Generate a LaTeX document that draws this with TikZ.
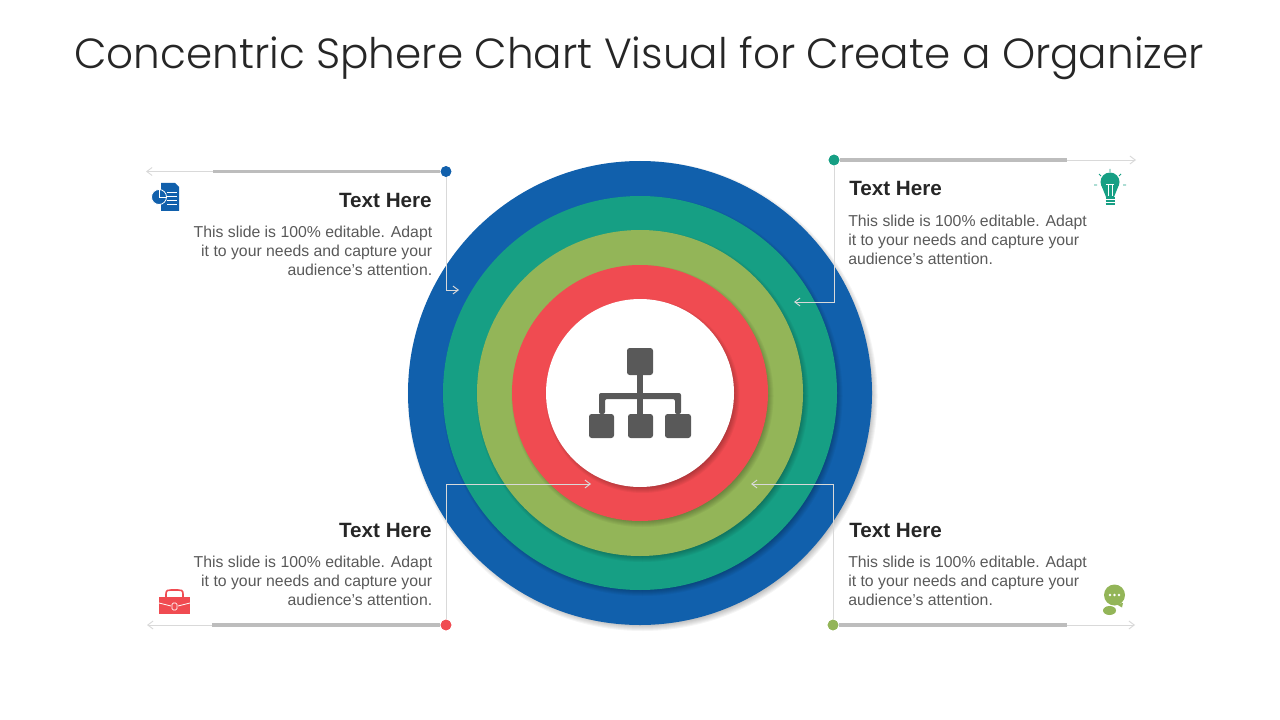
\documentclass[tikz,border=0pt]{standalone}
\usepackage{fontspec}
\usetikzlibrary{arrows.meta}
\setmainfont{Liberation Sans}
\newfontfamily\titlefont{Poppins Light}
\definecolor{ringblue}{HTML}{1160AC}
\definecolor{ringgreen}{HTML}{169F84}
\definecolor{ringolive}{HTML}{93B558}
\definecolor{ringred}{HTML}{F04B51}
\definecolor{icongray}{HTML}{595959}
\definecolor{barline}{HTML}{BDBDBD}
\definecolor{thinline}{HTML}{D9D9D9}
\definecolor{bodytext}{HTML}{595959}
\definecolor{headtext}{HTML}{262626}
\tikzset{
	ring/.style={circle,inner sep=0pt,minimum size=#1*1.5pt},
	dot/.style={circle,inner sep=0pt,minimum size=8pt},
	bar/.style={barline,line width=2.8pt},
	pointer/.style={thinline,line width=0.7pt,-{Straight Barb[length=4pt,width=6pt]}},
	head/.style={font=\fontsize{15.5}{18}\selectfont\bfseries,text=headtext,inner sep=0pt},
	body/.style={font=\fontsize{11.85}{14.25}\selectfont,text=bodytext,inner sep=0pt},
	box/.style={fill=icongray,rounded corners=2pt}
}
\begin{document}
\begin{tikzpicture}[x=0.75pt,y=-0.75pt]
	\useasboundingbox (0,0) rectangle (1280,720);
	\node[font=\titlefont\fontsize{31.6}{38}\selectfont,text=headtext,inner sep=0pt] (title) at (639,58) {Concentric Sphere Chart Visual for Create a Organizer};
	% rings, each with its soft shadow
	\foreach \r/\c/\n in {232/ringblue/ringA,197/ringgreen/ringB,163/ringolive/ringC,128/ringred/ringD,94/white/ringE} {
		\foreach \d in {0,1,2,3,4,5,6} {
			\fill[black,opacity=0.04] (642.5,396) circle[radius=\r+3-\d];
		}
		\node[ring=\r,fill=\c] (\n) at (640,393) {};
	}
	% hierarchy icon
	\fill[box] (627,348) rectangle (653,375);
	\fill[box] (589,414) rectangle (614,438);
	\fill[box] (628,414) rectangle (653,438);
	\fill[box] (665,414) rectangle (691,438);
	\fill[icongray] (637,375) rectangle (643,414);
	\fill[icongray,rounded corners=1.5pt] (599,414) -- (599,393) -- (681,393) -- (681,414) -- (675,414) -- (675,399) -- (605,399) -- (605,414) -- cycle;
	% corner dots
	\node[dot,fill=ringblue] (dotTL) at (446,171.5) {};
	\node[dot,fill=ringgreen] (dotTR) at (834,160) {};
	\node[dot,fill=ringred] (dotBL) at (446,625) {};
	\node[dot,fill=ringolive] (dotBR) at (833,625) {};
	\coordinate (barTL) at (213,171.5);
	\coordinate (endTL) at (146,171.5);
	\coordinate (barTR) at (1067,160);
	\coordinate (endTR) at (1136,160);
	\coordinate (barBL) at (212,625);
	\coordinate (endBL) at (147,625);
	\coordinate (barBR) at (1067,625);
	\coordinate (endBR) at (1135,625);
	\coordinate (tipTL) at (459,290);
	\coordinate (tipTR) at (794,302);
	\coordinate (tipBL) at (591,484);
	\coordinate (tipBR) at (751,484);
	\foreach \p in {TL,TR,BL,BR} {
		\draw[pointer] (bar\p) -- (end\p);
		\draw[bar] (dot\p) -- (bar\p);
	}
	\draw[pointer] (dotTL) |- (tipTL);
	\draw[pointer] (dotTR) |- (tipTR);
	\draw[pointer] (dotBL) |- (tipBL);
	\draw[pointer] (dotBR) |- (tipBR);
	\node[dot,fill=ringblue] at (dotTL) {};
	\node[dot,fill=ringgreen] at (dotTR) {};
	\node[dot,fill=ringred] at (dotBL) {};
	\node[dot,fill=ringolive] at (dotBR) {};
	% texts
	\node[head,anchor=east] (headTL) at (432,200) {Text Here};
	\node[body,anchor=east,align=right] (bodyTL) at (432.5,251) {This slide is 100\% editable. Adapt\\it to your needs and capture your\\audience's attention.};
	\node[head,anchor=east] (headBL) at (432,530) {Text Here};
	\node[body,anchor=east,align=right] (bodyBL) at (432.5,581) {This slide is 100\% editable. Adapt\\it to your needs and capture your\\audience's attention.};
	\node[head,anchor=west] (headTR) at (849,188) {Text Here};
	\node[body,anchor=west,align=left] (bodyTR) at (848,240) {This slide is 100\% editable. Adapt\\it to your needs and capture your\\audience's attention.};
	\node[head,anchor=west] (headBR) at (849,530) {Text Here};
	\node[body,anchor=west,align=left] (bodyBR) at (848,581) {This slide is 100\% editable. Adapt\\it to your needs and capture your\\audience's attention.};
	% document icon
	\fill[ringblue] (161,183) -- (175,183) -- (179,187) -- (179,211) -- (161,211) -- cycle;
	\fill[ringblue,draw=white,line width=0.6pt] (159,197) circle[radius=7.5];
	\draw[white,line width=0.6pt] (159,197) -- (159,189.5) (159,197) -- (166.5,197);
	\foreach \q in {192,196,200,204} {
		\draw[white,line width=0.7pt] (167,\q) -- (177,\q);
	}
	% bulb icon
	\fill[ringgreen] (1110,182) circle[radius=9.5];
	\fill[ringgreen] (1102,187) -- (1118,187) -- (1114,197) -- (1106,197) -- cycle;
	\draw[white,line width=0.5pt] (1108,196) -- (1108,184) (1112,196) -- (1112,184) (1106,184) -- (1114,184);
	\foreach \q in {198,201,204} {
		\draw[ringgreen,line width=1.3pt] (1105.5,\q) -- (1114.5,\q);
	}
	\draw[ringgreen,line width=0.6pt] (1110,169) -- (1110,172) (1099,174) -- (1101,176) (1121,174) -- (1119,176) (1094,185) -- (1097,185) (1123,185) -- (1126,185);
	% bag icon
	\draw[ringred,line width=1.2pt] (166,597) -- (166,594) .. controls (166,590) and (168,590) .. (171,590) -- (178,590) .. controls (181,590) and (183,590) .. (183,594) -- (183,597);
	\fill[ringred] (159,597) -- (190,597) -- (190,614) -- (159,614) -- cycle;
	\draw[white,line width=0.6pt] (159,603) -- (171,606) (190,603) -- (178,606);
	\draw[white,fill=ringred,line width=0.6pt,rounded corners=1pt] (172,603) rectangle (177,610);
	% chat icon
	\fill[ringolive] (1114.5,595) circle[radius=10.5];
	\fill[ringolive] (1116,604) -- (1123,603) -- (1122,607.5) -- cycle;
	\fill[ringolive] (1109.5,610.5) ellipse[x radius=6.5,y radius=4.5];
	\foreach \q in {1110,1114.5,1119} {
		\fill[white] (\q,595) circle[radius=1.4];
	}
\end{tikzpicture}
\end{document}
